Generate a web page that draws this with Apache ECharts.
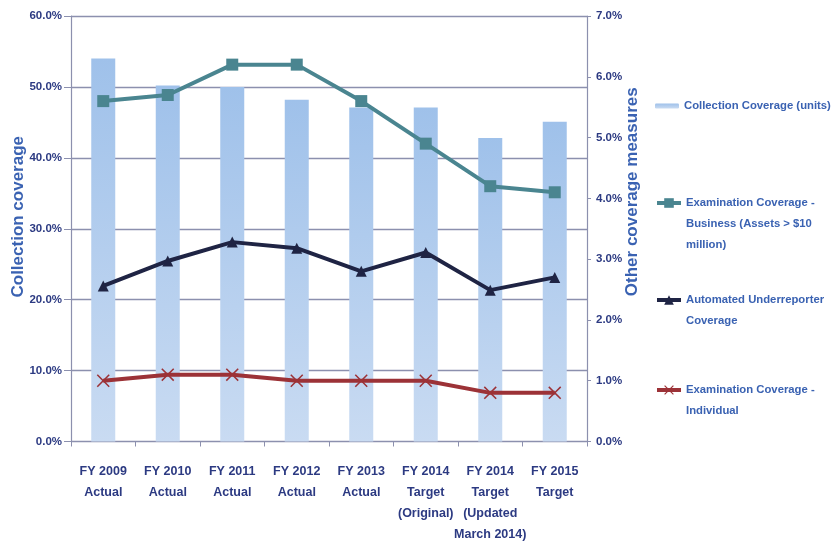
<!DOCTYPE html>
<html>
<head>
<meta charset="utf-8">
<script src="https://cdn.jsdelivr.net/npm/echarts@6/dist/echarts.min.js"></script>
<style>
  html, body { margin: 0; padding: 0; background: #ffffff; }
  #chart { width: 832px; height: 549px; }
</style>
</head>
<body>
<div id="chart"></div>
<script>
// Categories shown on the horizontal axis
const categories = [
  'FY 2009\nActual',
  'FY 2010\nActual',
  'FY 2011\nActual',
  'FY 2012\nActual',
  'FY 2013\nActual',
  'FY 2014\nTarget\n(Original)',
  'FY 2014\nTarget\n(Updated\nMarch 2014)',
  'FY 2015\nTarget'
];

// Collection coverage, percent (left axis)
const collectionCoverage = [54.0, 50.2, 50.0, 48.2, 47.1, 47.1, 42.8, 45.1];

// Other coverage measures, percent (right axis)
const examBusiness = [5.6, 5.7, 6.2, 6.2, 5.6, 4.9, 4.2, 4.1];
const automatedUnderreporter = [2.56, 2.97, 3.28, 3.18, 2.80, 3.11, 2.49, 2.70];
const examIndividual = [1.0, 1.1, 1.1, 1.0, 1.0, 1.0, 0.8, 0.8];

// Axis tick values
const leftTicks = { min: 0, max: 60, step: 10 };
const rightTicks = { min: 0, max: 7, step: 1 };

// Series names and how they wrap in the legend
const seriesNames = [
  'Collection Coverage (units)',
  'Examination Coverage - Business (Assets > $10 million)',
  'Automated Underreporter Coverage',
  'Examination Coverage - Individual'
];
const legendText = {
  'Collection Coverage (units)': 'Collection Coverage (units)',
  'Examination Coverage - Business (Assets > $10 million)': 'Examination Coverage -\nBusiness (Assets > $10\nmillion)',
  'Automated Underreporter Coverage': 'Automated Underreporter\nCoverage',
  'Examination Coverage - Individual': 'Examination Coverage -\nIndividual'
};

const FONT = "'Liberation Sans', Arial, sans-serif";
const AXIS_TEXT = '#2c3a82';
const BLUE_TEXT = '#3a62b2';
const GRID_COLOR = '#8c90ae';
const LINE_H = 21;

const crossPath = 'path://M0,1L1,0L6,5L11,0L12,1L7,6L12,11L11,12L6,7L1,12L0,11L5,6Z';

// One legend block per series; leading blank lines keep the icon level with the first text line
function legendBlock(name, top, iconHeight, lineWidth) {
  const lines = legendText[name].split('\n').length;
  const block = {
    data: [name],
    orient: 'vertical',
    left: 655,
    top: top,
    padding: 0,
    itemWidth: 24,
    itemHeight: iconHeight,
    itemGap: 0,
    selectedMode: false,
    formatter: n => '\n'.repeat(lines - 1) + legendText[n],
    textStyle: {
      fontFamily: FONT,
      fontWeight: 'bold',
      fontSize: 11.3,
      color: BLUE_TEXT,
      lineHeight: LINE_H
    }
  };
  if (lineWidth) block.lineStyle = { width: lineWidth };
  return block;
}

const chart = echarts.init(document.getElementById('chart'), null, { renderer: 'canvas' });

chart.setOption({
  animation: false,
  backgroundColor: '#ffffff',
  grid: { left: 71, right: 245, top: 16, bottom: 107.5, containLabel: false, outerBoundsMode: 'none' },
  legend: [
    legendBlock(seriesNames[0], 95.5, 5),
    legendBlock(seriesNames[1], 150.5, 12, 4),
    legendBlock(seriesNames[2], 268.5, 12, 4),
    legendBlock(seriesNames[3], 358.5, 12, 4)
  ],
  xAxis: {
    type: 'category',
    data: categories,
    boundaryGap: true,
    axisLine: { show: true, lineStyle: { color: GRID_COLOR, width: 1.2 } },
    axisTick: { show: true, alignWithLabel: false, length: 5, lineStyle: { color: GRID_COLOR } },
    axisLabel: {
      interval: 0,
      margin: 20,
      fontFamily: FONT,
      fontWeight: 'bold',
      fontSize: 12.5,
      lineHeight: LINE_H,
      color: AXIS_TEXT
    },
    splitLine: { show: false }
  },
  yAxis: [
    {
      type: 'value',
      position: 'left',
      min: leftTicks.min,
      max: leftTicks.max,
      interval: leftTicks.step,
      name: 'Collection coverage',
      nameLocation: 'middle',
      nameRotate: 90,
      nameGap: 44,
      nameMoveOverlap: false,
      nameTextStyle: {
        fontFamily: FONT,
        fontWeight: 'bold',
        fontSize: 17,
        color: BLUE_TEXT,
        padding: [0, 0, 0, 24]
      },
      axisLine: { show: true, lineStyle: { color: GRID_COLOR, width: 1.2 } },
      axisTick: { show: true, length: 7, lineStyle: { color: GRID_COLOR } },
      axisLabel: {
        margin: 9,
        formatter: v => v.toFixed(1) + '%',
        fontFamily: FONT,
        fontWeight: 'bold',
        fontSize: 11.5,
        color: AXIS_TEXT
      },
      splitLine: { show: true, lineStyle: { color: GRID_COLOR, width: 1.3 } }
    },
    {
      type: 'value',
      position: 'right',
      min: rightTicks.min,
      max: rightTicks.max,
      interval: rightTicks.step,
      name: 'Other coverage measures',
      nameLocation: 'middle',
      nameRotate: 90,
      nameGap: 37,
      nameMoveOverlap: false,
      nameTextStyle: {
        fontFamily: FONT,
        fontWeight: 'bold',
        fontSize: 17,
        color: BLUE_TEXT,
        padding: [0, 0, 0, 74]
      },
      axisLine: { show: true, lineStyle: { color: GRID_COLOR, width: 1.2 } },
      axisTick: { show: true, length: 4, lineStyle: { color: GRID_COLOR } },
      axisLabel: {
        margin: 9,
        formatter: v => v.toFixed(1) + '%',
        fontFamily: FONT,
        fontWeight: 'bold',
        fontSize: 11.5,
        color: AXIS_TEXT
      },
      splitLine: { show: false }
    }
  ],
  series: [
    {
      name: seriesNames[0],
      type: 'bar',
      yAxisIndex: 0,
      data: collectionCoverage,
      barWidth: 24,
      itemStyle: {
        color: new echarts.graphic.LinearGradient(0, 0, 0, 1, [
          { offset: 0, color: '#9fc1ea' },
          { offset: 1, color: '#c9dbf2' }
        ])
      },
      emphasis: { disabled: true }
    },
    {
      name: seriesNames[1],
      type: 'line',
      yAxisIndex: 1,
      data: examBusiness,
      symbol: 'rect',
      symbolSize: 12,
      lineStyle: { color: '#4a8590', width: 4 },
      itemStyle: { color: '#4a8590' },
      emphasis: { disabled: true },
      z: 4
    },
    {
      name: seriesNames[2],
      type: 'line',
      yAxisIndex: 1,
      data: automatedUnderreporter,
      symbol: 'triangle',
      symbolSize: 11,
      lineStyle: { color: '#1f2444', width: 4 },
      itemStyle: { color: '#1f2444' },
      emphasis: { disabled: true },
      z: 3
    },
    {
      name: seriesNames[3],
      type: 'line',
      yAxisIndex: 1,
      data: examIndividual,
      symbol: crossPath,
      symbolSize: 13,
      lineStyle: { color: '#9c3237', width: 4 },
      itemStyle: { color: '#9c3237' },
      emphasis: { disabled: true },
      z: 2
    }
  ]
});
</script>
</body>
</html>
